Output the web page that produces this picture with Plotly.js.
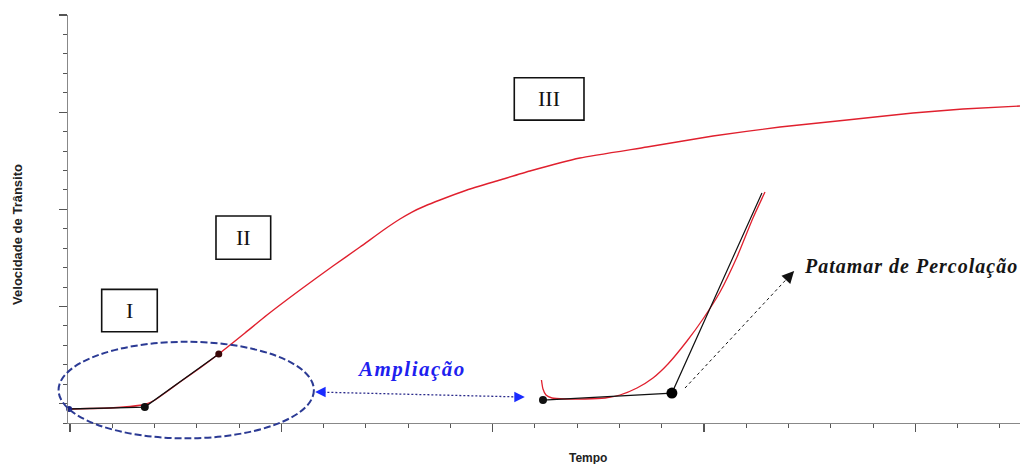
<!DOCTYPE html>
<html>
<head>
<meta charset="utf-8">
<script src="https://cdn.plot.ly/plotly-3.0.1.min.js"></script>
<style>html,body{margin:0;padding:0;background:#fff;}#chart{width:1020px;height:464px;}</style>
</head>
<body>
<div id="chart"></div>
<script>
// ---- data (axis units: x = time ticks, y = velocity ticks) ----
const mainX = [-0.024, 0.473, 0.946, 1.419, 1.774, 2.011, 2.247, 2.602, 3.075, 3.549, 4.140, 4.661, 5.441, 6.222, 6.861, 7.452, 7.807, 8.091, 8.398, 8.753, 9.392, 10.173, 10.882, 12.065, 13.650, 15.212, 16.797, 18.382, 19.943, 21.126, 22.474];
const mainY = [-0.279, -0.254, -0.228, -0.151, -0.048, 0.184, 0.544, 1.110, 1.831, 2.603, 3.632, 4.558, 5.845, 7.080, 8.058, 8.985, 9.499, 9.860, 10.169, 10.477, 10.992, 11.506, 11.970, 12.639, 13.205, 13.771, 14.234, 14.595, 14.955, 15.161, 15.316];

const tanMainX = [-0.02, 1.77, 3.52];
const tanMainY = [-0.28, -0.18, 2.55];

const insetX = [11.154, 11.190, 11.261, 11.403, 11.710, 12.184, 12.657, 13.012, 13.414, 13.792, 14.147, 14.597, 14.975, 15.378, 15.780, 16.158, 16.442];
const insetY = [1.213, 0.750, 0.441, 0.287, 0.235, 0.235, 0.287, 0.441, 0.801, 1.316, 2.037, 3.220, 4.353, 5.742, 7.544, 9.551, 10.889];

const tanInsetX = [11.19, 14.24, 16.37];
const tanInsetY = [0.18, 0.54, 10.84];

const percArrowX = [14.55, 17.13];
const percArrowY = [0.80, 6.82];

const zoomArrowX = [5.90, 10.65];
const zoomArrowY = [0.59, 0.34];

const zoomRegionX = [-0.27, 5.77];
const zoomRegionY = [-1.79, 3.18];

const phaseLabels = ['I', 'II', 'III'];
const phaseBoxX = [[0.75, 2.065], [3.454, 4.748], [10.511, 12.160]];
const phaseBoxY = [[3.70, 5.88], [7.425, 9.654], [14.59, 16.77]];

const XR = [-0.047, 22.475];
const YR = [-1, 20];

const xd = v => (v - XR[0]) / (XR[1] - XR[0]);
const yd = v => (v - YR[0]) / (YR[1] - YR[0]);

const RED = '#e0202e';

const traces = [
  {x: mainX, y: mainY, mode: 'lines', line: {color: RED, width: 1.4, shape: 'spline', smoothing: 0.5}, hoverinfo: 'skip'},
  {x: tanMainX, y: tanMainY, mode: 'lines', line: {color: '#111', width: 1.3}, hoverinfo: 'skip'},
  {x: insetX, y: insetY, mode: 'lines', line: {color: RED, width: 1.3, shape: 'spline', smoothing: 0.6}, hoverinfo: 'skip'},
  {x: tanInsetX, y: tanInsetY, mode: 'lines', line: {color: '#111', width: 1.2}, hoverinfo: 'skip'},
  {x: percArrowX, y: percArrowY, mode: 'lines', line: {color: '#111', width: 1, dash: '3px,3px'}, hoverinfo: 'skip'},
  {x: zoomArrowX, y: zoomArrowY, mode: 'lines', line: {color: '#2a2a8a', width: 1.3, dash: '2px,2px'}, hoverinfo: 'skip'},
  {x: [tanMainX[0]], y: [tanMainY[0]], mode: 'markers', marker: {color: '#1a237e', size: 6}, hoverinfo: 'skip', cliponaxis: false},
  {x: [tanMainX[1]], y: [tanMainY[1]], mode: 'markers', marker: {color: '#111', size: 8}, hoverinfo: 'skip'},
  {x: [tanMainX[2]], y: [tanMainY[2]], mode: 'markers', marker: {color: '#3a0808', size: 7}, hoverinfo: 'skip'},
  {x: [tanInsetX[0]], y: [tanInsetY[0]], mode: 'markers', marker: {color: '#111', size: 8}, hoverinfo: 'skip'},
  {x: [tanInsetX[1]], y: [tanInsetY[1]], mode: 'markers', marker: {color: '#000', size: 11}, hoverinfo: 'skip'}
];

const shapes = [
  {type: 'circle', xref: 'x domain', yref: 'y domain', layer: 'above',
   x0: xd(zoomRegionX[0]), x1: xd(zoomRegionX[1]), y0: yd(zoomRegionY[0]), y1: yd(zoomRegionY[1]),
   line: {color: '#2b3a94', width: 2, dash: '7px,3px'}}
];
const annotations = [];
phaseLabels.forEach((lab, i) => {
  shapes.push({type: 'rect', xref: 'x', yref: 'y', layer: 'above',
    x0: phaseBoxX[i][0], x1: phaseBoxX[i][1], y0: phaseBoxY[i][0], y1: phaseBoxY[i][1],
    line: {color: '#111', width: 1.6}});
  annotations.push({xref: 'x', yref: 'y', x: (phaseBoxX[i][0] + phaseBoxX[i][1]) / 2, y: (phaseBoxY[i][0] + phaseBoxY[i][1]) / 2,
    text: lab, showarrow: false, font: {family: 'Liberation Serif', size: 22, color: '#111'}});
});

// arrowheads
annotations.push({xref: 'x', yref: 'y', x: zoomArrowX[0] - 0.1, y: zoomArrowY[0], ax: 11, ay: 0, text: '', showarrow: true,
  arrowhead: 2, arrowsize: 1.4, arrowwidth: 1.5, arrowcolor: '#1a2cff'});
annotations.push({xref: 'x', yref: 'y', x: zoomArrowX[1] + 0.11, y: zoomArrowY[1], ax: -11, ay: 0, text: '', showarrow: true,
  arrowhead: 2, arrowsize: 1.4, arrowwidth: 1.5, arrowcolor: '#1a2cff'});
annotations.push({xref: 'x', yref: 'y', x: percArrowX[1], y: percArrowY[1], ax: -8.2, ay: 8.8, text: '', showarrow: true,
  arrowhead: 2, arrowsize: 2, arrowwidth: 1.2, arrowcolor: '#111'});

// texts
annotations.push({xref: 'x', yref: 'y', x: 8.09, y: 1.78, showarrow: false,
  text: '<span style="letter-spacing:1.5px">Ampliação</span>',
  font: {family: 'Liberation Serif', size: 21, color: '#1f1fef', weight: 700, style: 'italic'}});
annotations.push({xref: 'x', yref: 'y', x: 17.32, y: 7.08, xanchor: 'left', showarrow: false,
  text: '<span style="letter-spacing:1px">Patamar de Percolação</span>',
  font: {family: 'Liberation Serif', size: 20, color: '#151515', weight: 700, style: 'italic'}});
annotations.push({xref: 'paper', yref: 'paper', x: 0, xshift: -50, xanchor: 'center', y: 0.461, yanchor: 'middle', textangle: -90, showarrow: false,
  text: 'Velocidade de Trânsito', font: {family: 'Liberation Sans', size: 13, color: '#222', weight: 700}});
annotations.push({xref: 'paper', yref: 'paper', x: 0.546, xanchor: 'center', y: -0.0858, yanchor: 'middle', showarrow: false,
  text: 'Tempo', font: {family: 'Liberation Sans', size: 12, color: '#222', weight: 700}});

const axisCommon = {
  showline: true, linecolor: '#888', linewidth: 1.2, showgrid: false, zeroline: false,
  showticklabels: false, ticks: 'outside', tickmode: 'linear', tick0: 0, dtick: 5,
  tickcolor: '#555', tickwidth: 1.2, fixedrange: true
};

const layout = {
  width: 1020, height: 464,
  margin: {l: 68, r: 0, t: 15, b: 41},
  paper_bgcolor: '#fff', plot_bgcolor: '#fff',
  showlegend: false,
  xaxis: Object.assign({}, axisCommon, {range: XR, ticklen: 8,
    minor: {dtick: 1, ticks: 'outside', ticklen: 4, tickcolor: '#555', tickwidth: 1}}),
  yaxis: Object.assign({}, axisCommon, {range: YR, ticklen: 8,
    minor: {dtick: 1, ticks: 'outside', ticklen: 4, tickcolor: '#555', tickwidth: 1}}),
  shapes: shapes,
  annotations: annotations
};

Plotly.newPlot('chart', traces, layout, {staticPlot: true, displayModeBar: false});
</script>
</body>
</html>
